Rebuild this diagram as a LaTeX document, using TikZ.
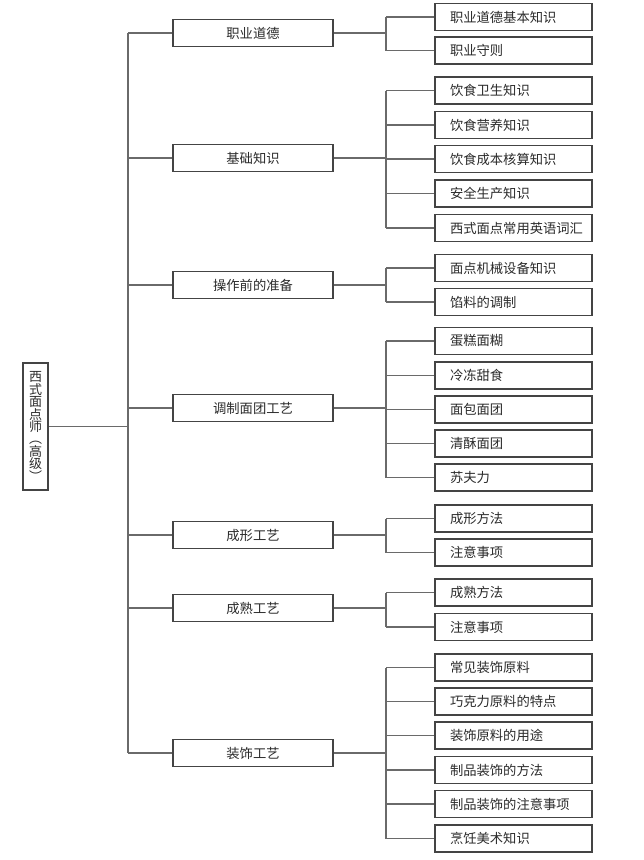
\documentclass[tikz,border=0pt]{standalone}
\usepackage{fontspec}
\setmainfont{Noto Sans CJK SC}
\definecolor{boxc}{HTML}{444444}
\definecolor{linec}{HTML}{6A6A6A}
\definecolor{txtc}{HTML}{2A2A2A}
\tikzset{
  boxbase/.style={draw=boxc, line width=1.7pt, text=txtc, inner sep=0pt,
    font=\fontsize{13.3}{13.3}\selectfont},
  lvlone/.style={boxbase, minimum width=160pt, minimum height=27pt},
  lvltwo/.style={boxbase, minimum width=157pt, minimum height=27pt,
    text width=127pt, align=left},
  rootbox/.style={boxbase, minimum width=25pt, minimum height=127pt,
    text width=13pt, align=center, font=\fontsize{13}{12.4}\selectfont},
  conn/.style={draw=linec, line width=1.1pt},
}
\begin{document}
\begin{tikzpicture}[x=1pt,y=-1pt]
\useasboundingbox (0,0) rectangle (644,860);
\coordinate (trunk) at (128,0);
\coordinate (br) at (386,0);
% root
\node[rootbox] (root) at (35.5,426.5) {西\\式\\面\\点\\师\\︵\\高\\级\\︶};
% level one
\node[lvlone] (la) at (253,33) {职业道德};
\node[lvlone] (lb) at (253,158) {基础知识};
\node[lvlone] (lc) at (253,285) {操作前的准备};
\node[lvlone] (ld) at (253,408) {调制面团工艺};
\node[lvlone] (le) at (253,535) {成形工艺};
\node[lvlone] (lf) at (253,608) {成熟工艺};
\node[lvlone] (lg) at (253,753) {装饰工艺};
% level two
\node[lvltwo] (a1) at (513.5,17) {职业道德基本知识};
\node[lvltwo] (a2) at (513.5,50.5) {职业守则};
\node[lvltwo] (b1) at (513.5,90.5) {饮食卫生知识};
\node[lvltwo] (b2) at (513.5,125) {饮食营养知识};
\node[lvltwo] (b3) at (513.5,159) {饮食成本核算知识};
\node[lvltwo] (b4) at (513.5,193.5) {安全生产知识};
\node[lvltwo] (b5) at (513.5,228) {西式面点常用英语词汇};
\node[lvltwo] (c1) at (513.5,268) {面点机械设备知识};
\node[lvltwo] (c2) at (513.5,302) {馅料的调制};
\node[lvltwo] (d1) at (513.5,341) {蛋糕面糊};
\node[lvltwo] (d2) at (513.5,375.5) {冷冻甜食};
\node[lvltwo] (d3) at (513.5,409.5) {面包面团};
\node[lvltwo] (d4) at (513.5,443.5) {清酥面团};
\node[lvltwo] (d5) at (513.5,477.5) {苏夫力};
\node[lvltwo] (e1) at (513.5,518.5) {成形方法};
\node[lvltwo] (e2) at (513.5,552.5) {注意事项};
\node[lvltwo] (f1) at (513.5,592.5) {成熟方法};
\node[lvltwo] (f2) at (513.5,627) {注意事项};
\node[lvltwo] (g1) at (513.5,667.5) {常见装饰原料};
\node[lvltwo] (g2) at (513.5,701.5) {巧克力原料的特点};
\node[lvltwo] (g3) at (513.5,735.5) {装饰原料的用途};
\node[lvltwo] (g4) at (513.5,770) {制品装饰的方法};
\node[lvltwo] (g5) at (513.5,804) {制品装饰的注意事项};
\node[lvltwo] (g6) at (513.5,838.5) {烹饪美术知识};
% trunk
\draw[conn] (root.east) -- (root.east -| trunk);
\draw[conn] (trunk |- la.west) -- (trunk |- lg.west);
\foreach \n in {la,lb,lc,ld,le,lf,lg}
  \draw[conn] (trunk |- \n.west) -- (\n.west);
% brackets
\foreach \p/\first/\last/\kids in {
  la/a1/a2/{a1,a2},
  lb/b1/b5/{b1,b2,b3,b4,b5},
  lc/c1/c2/{c1,c2},
  ld/d1/d5/{d1,d2,d3,d4,d5},
  le/e1/e2/{e1,e2},
  lf/f1/f2/{f1,f2},
  lg/g1/g6/{g1,g2,g3,g4,g5,g6}}{
  \draw[conn] (\p.east) -- (br |- \p.east);
  \draw[conn] (br |- \first.west) -- (br |- \last.west);
  \foreach \k in \kids
    \draw[conn] (br |- \k.west) -- (\k.west);
}
\end{tikzpicture}
\end{document}
